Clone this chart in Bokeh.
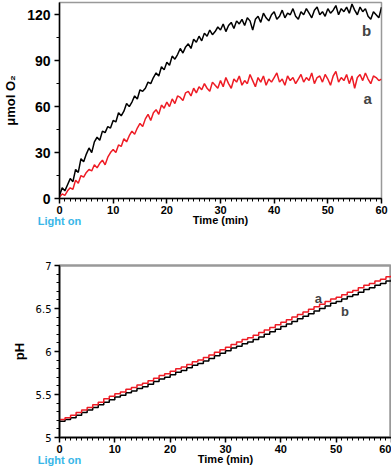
import numpy as np
from bokeh.plotting import figure
from bokeh.layouts import column
from bokeh.models import Label, FixedTicker, ColumnDataSource, LinearAxis
from bokeh.embed import file_html
from bokeh.resources import INLINE

# ---------------- data ----------------
o2_time_step = 0.5  # minutes between O2 readings
o2_b = [2, 7, 5, 9, 13, 11, 19, 17, 26, 24,
        29, 33, 30, 37, 40, 38, 44, 43, 47, 46,
        51, 50, 56, 54, 57, 62, 60, 63, 67, 65,
        71, 70, 72, 76, 75, 79, 82, 80, 86, 84,
        89, 87, 93, 91, 94, 98, 95, 99, 101, 98,
        104, 102, 106, 103, 108, 106, 110, 107, 109, 112,
        110, 114, 109, 113, 115, 111, 116, 114, 117, 113,
        118, 116, 110, 117, 119, 115, 121, 118, 116, 120,
        122, 117, 119, 123, 118, 121, 120, 124, 119, 117,
        122, 120, 124, 121, 118, 123, 125, 120, 122, 119,
        124, 121, 123, 126, 120, 124, 122, 125, 121, 127,
        123, 120, 125, 122, 124, 119, 117, 122, 120, 118,
        125]
o2_a = [1, 3, 2, 5, 7, 6, 12, 10, 15, 14,
        17, 19, 18, 22, 20, 23, 25, 22, 27, 30,
        32, 30, 35, 34, 39, 37, 41, 44, 42, 46,
        49, 47, 52, 55, 51, 56, 58, 55, 61, 59,
        63, 60, 65, 62, 67, 66, 64, 69, 70, 67,
        72, 69, 73, 71, 75, 72, 70, 76, 74, 72,
        77, 73, 79, 75, 72, 78, 76, 80, 74, 77,
        75, 81, 77, 73, 79, 76, 80, 74, 78, 76,
        79, 82, 76, 78, 74, 80, 77, 79, 75, 78,
        81, 76, 79, 77, 82, 75, 79, 80, 76, 81,
        78, 74, 80, 83, 76, 79, 77, 81, 75, 80,
        72, 79, 81, 77, 82, 78, 75, 80, 79, 77,
        78]

ph_time = list(range(0, 61))
ph_a = [5.21, 5.23, 5.26, 5.29, 5.32, 5.35, 5.38, 5.41, 5.45, 5.48, 5.51, 5.53, 5.56, 5.58, 5.61,
        5.63, 5.66, 5.69, 5.72, 5.74, 5.77, 5.80, 5.82, 5.85, 5.88, 5.90, 5.93, 5.96, 5.99, 6.02,
        6.05, 6.08, 6.11, 6.14, 6.16, 6.19, 6.22, 6.25, 6.28, 6.31, 6.34, 6.37, 6.40, 6.43, 6.46,
        6.49, 6.52, 6.55, 6.58, 6.61, 6.63, 6.66, 6.69, 6.71, 6.74, 6.77, 6.79, 6.82, 6.84, 6.87,
        6.89]
ph_b = [5.19, 5.21, 5.23, 5.26, 5.29, 5.32, 5.35, 5.38, 5.41, 5.44, 5.47, 5.49, 5.52, 5.54, 5.57,
        5.59, 5.62, 5.65, 5.68, 5.70, 5.73, 5.76, 5.78, 5.81, 5.84, 5.86, 5.89, 5.92, 5.95, 5.98,
        6.01, 6.04, 6.06, 6.09, 6.11, 6.14, 6.17, 6.20, 6.23, 6.26, 6.29, 6.32, 6.35, 6.38, 6.41,
        6.44, 6.47, 6.50, 6.53, 6.56, 6.58, 6.61, 6.64, 6.66, 6.69, 6.72, 6.74, 6.77, 6.79, 6.82,
        6.84]

x_major = [0, 10, 20, 30, 40, 50, 60]
x_minor = list(range(0, 61))
o2_major = [0, 30, 60, 90, 120]
o2_minor = [15, 45, 75, 105]
ph_major = [5, 5.5, 6, 6.5, 7]
ph_minor = [5.0, 5.1, 5.2, 5.3, 5.4, 5.5, 5.6, 5.7, 5.8, 5.9, 6.0, 6.1, 6.2, 6.3, 6.4, 6.5,
            6.6, 6.7, 6.8, 6.9, 7.0]
ph_labels = {5: "5", 5.5: "5.5", 6: "6", 6.5: "6.5", 7: "7"}
light_on_tick = [0]
light_on_label = {0: "Light on"}

RED = "#ee1c25"
BLACK = "#000000"
CYAN = "#38b6e8"
FONT = "Liberation Sans"

o2_t = [i * o2_time_step for i in range(len(o2_b))]
src_o2 = ColumnDataSource(dict(t=o2_t, a=o2_a, b=o2_b))
src_ph = ColumnDataSource(dict(t=ph_time, a=ph_a, b=ph_b))


def style_axes(p):
    for ax in (p.xaxis[0], p.yaxis[0]):
        ax.axis_line_color = BLACK
        ax.axis_line_width = 1.5
        ax.major_tick_line_color = BLACK
        ax.major_tick_line_width = 1.5
        ax.minor_tick_line_color = BLACK
        ax.minor_tick_line_width = 1
        ax.major_tick_in = 0
        ax.major_tick_out = 5
        ax.minor_tick_in = 0
        ax.minor_tick_out = 3
        ax.axis_label_text_font = FONT
        ax.axis_label_text_font_style = "bold"
        ax.axis_label_text_color = BLACK
        ax.major_label_text_color = BLACK
        ax.major_label_text_font = FONT
        ax.major_label_text_font_style = "bold"


def add_light_on(p, standoff):
    ax = LinearAxis(ticker=FixedTicker(ticks=light_on_tick, minor_ticks=[]),
                    major_label_overrides=light_on_label)
    ax.axis_line_color = None
    ax.major_tick_line_color = None
    ax.minor_tick_line_color = None
    ax.major_tick_out = 0
    ax.major_tick_in = 0
    ax.major_label_standoff = standoff
    ax.major_label_text_color = CYAN
    ax.major_label_text_font = FONT
    ax.major_label_text_font_style = "bold"
    ax.major_label_text_font_size = "11px"
    p.add_layout(ax, "below")


# ---------------- top figure ----------------
p1 = figure(frame_width=322, frame_height=196, x_range=(0, 60), y_range=(0, 128),
            output_backend="svg", toolbar_location=None,
            min_border_left=52, min_border_right=10, min_border_top=2, min_border_bottom=0)
p1.line("t", "b", source=src_o2, line_color=BLACK, line_width=1.5)
p1.line("t", "a", source=src_o2, line_color=RED, line_width=1.5)

p1.xgrid.visible = False
p1.ygrid.visible = False
p1.outline_line_color = "#999999"
p1.outline_line_width = 1.5
p1.background_fill_color = "white"

p1.xaxis.ticker = FixedTicker(ticks=x_major, minor_ticks=x_minor)
p1.yaxis.ticker = FixedTicker(ticks=o2_major, minor_ticks=o2_minor)
style_axes(p1)

p1.yaxis.major_label_text_font_size = "14px"
p1.yaxis.major_label_standoff = 4
p1.yaxis.axis_label = "μmol O₂"
p1.yaxis.axis_label_text_font_size = "13px"
p1.yaxis.axis_label_standoff = 6
p1.xaxis.major_label_text_font_size = "11px"
p1.xaxis.major_label_standoff = 2
p1.xaxis.axis_label = "Time (min)"
p1.xaxis.axis_label_text_font_size = "11px"
p1.xaxis.axis_label_standoff = -3
add_light_on(p1, -14)

p1.add_layout(Label(x=57.2, y=110, text="b", text_font=FONT, text_font_style="bold",
                    text_font_size="15px", text_align="center", text_baseline="middle"))
p1.add_layout(Label(x=57.4, y=65, text="a", text_font=FONT, text_font_style="bold",
                    text_font_size="15px", text_align="center", text_baseline="middle"))

# ---------------- bottom figure ----------------
p2 = figure(frame_width=332, frame_height=172, x_range=(0, 60), y_range=(5, 7),
            output_backend="svg", toolbar_location=None,
            min_border_left=44, min_border_right=8, min_border_top=36, min_border_bottom=0)
p2.step("t", "b", source=src_ph, mode="after", line_color=BLACK, line_width=1.5)
p2.step("t", "a", source=src_ph, mode="after", line_color=RED, line_width=1.5)

p2.xgrid.visible = False
p2.ygrid.visible = False
p2.outline_line_color = "#999999"
p2.outline_line_width = 2.5
p2.background_fill_color = "white"

p2.xaxis.ticker = FixedTicker(ticks=x_major, minor_ticks=x_minor)
p2.yaxis.ticker = FixedTicker(ticks=ph_major, minor_ticks=ph_minor)
p2.yaxis.major_label_overrides = ph_labels
style_axes(p2)

p2.yaxis.major_label_text_font = "DejaVu Sans"
p2.yaxis.major_label_text_font_style = "normal"
p2.yaxis.major_label_text_font_size = "10px"
p2.yaxis.major_label_standoff = 3
p2.yaxis.axis_label = "pH"
p2.yaxis.axis_label_text_font_size = "13px"
p2.yaxis.axis_label_standoff = 6
p2.xaxis.major_label_text_font_size = "11px"
p2.xaxis.major_label_standoff = 2
p2.xaxis.axis_label = "Time (min)"
p2.xaxis.axis_label_text_font_size = "11px"
p2.xaxis.axis_label_standoff = -3
add_light_on(p2, -14)

p2.add_layout(Label(x=46.8, y=6.62, text="a", text_font=FONT, text_font_style="bold",
                    text_font_size="13px", text_align="center", text_baseline="middle"))
p2.add_layout(Label(x=51.6, y=6.46, text="b", text_font=FONT, text_font_style="bold",
                    text_font_size="13px", text_align="center", text_baseline="middle"))

layout = column(p1, p2, spacing=0)
open("out.html", "w").write(file_html(layout, INLINE))
